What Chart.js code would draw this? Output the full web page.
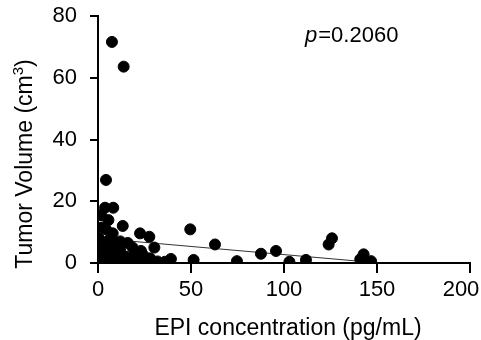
<!DOCTYPE html>
<html>
<head>
<meta charset="utf-8">
<script src="https://cdn.jsdelivr.net/npm/chart.js@4"></script>
<style>
  body { margin: 0; background: #fff; }
</style>
</head>
<body>
<canvas id="scatterChart" width="481" height="340"></canvas>
<script>
  // EPI concentration (pg/mL) vs tumor volume (cm3), one point per sample
  const epiValues = [
    7.5, 13.8, 4.3, 3.8, 8.2, 1.6, 5.6, 13.3, 4.3, 7.9, 22.6, 27.6, 49.6, 62.9,
    30.3, 18.6, 3.4, 10.6, 23.1, 39.2, 37.6, 51.4, 4.5, 9.8, 24.2, 2.7,
    74.7, 87.6, 95.7, 102.9, 111.8, 124.0, 125.8, 141.0, 142.8, 146.8,
    1.0, 2.0, 3.0, 5.0, 6.0, 7.0, 8.0, 9.0, 10.0, 11.0, 12.0, 14.0, 15.0, 16.0,
    17.0, 19.0, 20.0, 21.0, 26.0, 28.0, 32.0, 0.5, 2.0, 6.0, 12.0, 16.0, 1.0,
    0.5, 4.0, 9.0, 20.0, 24.0, 36.0
  ];
  const volumeValues = [
    71.6, 63.6, 26.9, 17.9, 17.9, 15.5, 13.9, 12.0, 10.9, 9.6, 9.6, 8.5, 10.9, 6.0,
    5.0, 5.0, 6.4, 6.4, 3.9, 1.3, 0.1, 1.0, 5.8, 5.3, 2.6, 2.6,
    0.6, 3.0, 3.9, 0.4, 1.0, 6.0, 8.0, 1.2, 2.8, 0.6,
    1.0, 4.0, 0.5, 2.0, 0.3, 3.5, 1.0, 0.5, 2.5, 0.8, 4.0, 0.5, 2.0, 1.0,
    0.3, 0.8, 1.5, 0.4, 0.8, 1.5, 0.5, 8.0, 11.5, 7.5, 7.0, 6.5, 5.0,
    0.3, 3.0, 4.5, 3.0, 0.5, 0.4
  ];

  // fitted regression line end points
  const fitX = [0.5, 146.8];
  const fitY = [7.98, 0.24];

  const xTicks = [0, 50, 100, 150, 200];
  const yTicks = [0, 20, 40, 60, 80];

  const pValue = '0.2060';
  const xTitle = 'EPI concentration (pg/mL)';
  const yTitle = 'Tumor Volume (cm';

  const FONT = '"Liberation Sans", Arial, Helvetica, sans-serif';

  const points = epiValues.map((x, i) => ({ x: x, y: volumeValues[i] }));
  const fitLine = fitX.map((x, i) => ({ x: x, y: fitY[i] }));

  // tick marks, axis titles and p value, drawn by hand so they sit where the original has them
  const labelPlugin = {
    id: 'labels',
    beforeDraw(chart) {
      // the last x label is pulled in so it stays on the canvas, like the original
      const items = chart.scales.x.getLabelItems(chart.chartArea);
      const last = items[items.length - 1];
      if (last && !last.shifted) {
        last.options.translation[0] -= 9;
        last.shifted = true;
      }
    },
    afterDraw(chart) {
      const ctx = chart.ctx;
      const xs = chart.scales.x;
      const ys = chart.scales.y;
      const area = chart.chartArea;
      ctx.save();

      // tick marks
      ctx.strokeStyle = '#000';
      ctx.lineWidth = 2;
      ctx.beginPath();
      xTicks.forEach(v => {
        const px = Math.round(xs.getPixelForValue(v));
        ctx.moveTo(px, area.bottom);
        ctx.lineTo(px, area.bottom + 10);
      });
      yTicks.forEach(v => {
        const py = Math.round(ys.getPixelForValue(v));
        ctx.moveTo(area.left, py);
        ctx.lineTo(area.left - 8, py);
      });
      ctx.stroke();

      ctx.fillStyle = '#000';

      // x title
      ctx.font = '23px ' + FONT;
      ctx.textAlign = 'center';
      ctx.textBaseline = 'alphabetic';
      ctx.fillText(xTitle, 288, 335);

      // y title with superscript 3
      ctx.translate(32, 164);
      ctx.rotate(-Math.PI / 2);
      const mainW = ctx.measureText(yTitle).width;
      ctx.font = '15px ' + FONT;
      const supW = ctx.measureText('3').width;
      ctx.font = '23px ' + FONT;
      const closeW = ctx.measureText(')').width;
      const x0 = -(mainW + supW + closeW) / 2;
      ctx.textAlign = 'left';
      ctx.fillText(yTitle, x0, 0);
      ctx.font = '15px ' + FONT;
      ctx.fillText('3', x0 + mainW, -9);
      ctx.font = '23px ' + FONT;
      ctx.fillText(')', x0 + mainW + supW, 0);
      ctx.setTransform(1, 0, 0, 1, 0, 0);

      // p value
      ctx.textAlign = 'left';
      ctx.font = 'italic 22px ' + FONT;
      ctx.fillText('p', 305, 42);
      const pW = ctx.measureText('p').width;
      ctx.font = '22px ' + FONT;
      ctx.fillText('=' + pValue, 305 + pW + 1, 42);
      ctx.restore();
    }
  };

  const ctx = document.getElementById('scatterChart').getContext('2d');
  new Chart(ctx, {
    type: 'scatter',
    data: {
      datasets: [{
        label: 'Samples',
        data: points,
        backgroundColor: '#000',
        borderColor: '#000',
        pointRadius: 5.5,
        pointHoverRadius: 5.5,
        order: 0
      }, {
        type: 'line',
        label: 'Fit',
        data: fitLine,
        borderColor: '#333',
        borderWidth: 1,
        pointRadius: 0,
        fill: false,
        order: 1
      }]
    },
    options: {
      responsive: false,
      animation: false,
      layout: { padding: { top: 16, right: 11, left: 0, bottom: 0 } },
      plugins: {
        legend: { display: false },
        tooltip: { enabled: false }
      },
      scales: {
        x: {
          type: 'linear',
          min: 0,
          max: 200,
          afterBuildTicks: s => { s.ticks = xTicks.map(v => ({ value: v })); },
          afterFit: s => { s.height = 77; s.paddingLeft = 0; s.paddingRight = 0; },
          border: { color: '#000', width: 2 },
          grid: { drawOnChartArea: false, drawTicks: true, tickLength: 10, color: '#000', lineWidth: 2 },
          ticks: { color: '#000', padding: 4, font: { family: FONT, size: 22 } }
        },
        y: {
          type: 'linear',
          min: 0,
          max: 80,
          afterBuildTicks: s => { s.ticks = yTicks.map(v => ({ value: v })); },
          afterFit: s => { s.width = 98; s.paddingTop = 0; s.paddingBottom = 0; },
          border: { color: '#000', width: 2 },
          grid: { drawOnChartArea: false, drawTicks: true, tickLength: 8, color: '#000', lineWidth: 2 },
          ticks: { color: '#000', padding: 13, font: { family: FONT, size: 22 } }
        }
      }
    },
    plugins: [labelPlugin]
  });
</script>
</body>
</html>
